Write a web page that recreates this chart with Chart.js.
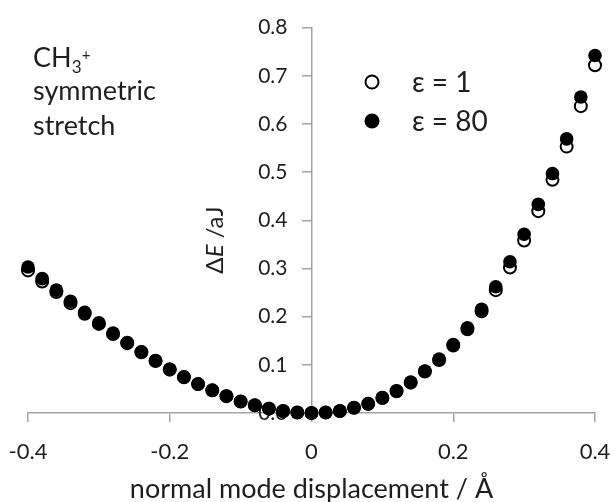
<!DOCTYPE html>
<html>
<head>
<meta charset="utf-8">
<script src="https://cdn.jsdelivr.net/npm/chart.js@4.4.0/dist/chart.umd.min.js"></script>
<style>
  html, body { margin: 0; padding: 0; background: #fff; }
</style>
</head>
<body>
<canvas id="scatter-chartcanvas" width="614" height="502"></canvas>
<script>
// displacement along the normal mode (Å)
var displacement = [-0.40, -0.38, -0.36, -0.34, -0.32, -0.30, -0.28, -0.26, -0.24, -0.22,
  -0.20, -0.18, -0.16, -0.14, -0.12, -0.10, -0.08, -0.06, -0.04, -0.02,
  0.00, 0.02, 0.04, 0.06, 0.08, 0.10, 0.12, 0.14, 0.16, 0.18,
  0.20, 0.22, 0.24, 0.26, 0.28, 0.30, 0.32, 0.34, 0.36, 0.38, 0.40];

// energy change (aJ), epsilon = 1
var eps1 = [0.296, 0.273, 0.251, 0.228, 0.206, 0.185, 0.164, 0.145, 0.126, 0.108,
  0.090, 0.074, 0.060, 0.047, 0.035, 0.024, 0.016, 0.009, 0.004, 0.001,
  0.000, 0.001, 0.004, 0.011, 0.019, 0.031, 0.045, 0.063, 0.086, 0.110,
  0.140, 0.174, 0.211, 0.255, 0.302, 0.358, 0.419, 0.484, 0.553, 0.637, 0.722];

// energy change (aJ), epsilon = 80
var eps80 = [0.303, 0.279, 0.255, 0.232, 0.209, 0.187, 0.166, 0.146, 0.127, 0.109,
  0.091, 0.075, 0.060, 0.047, 0.035, 0.024, 0.016, 0.009, 0.004, 0.001,
  0.000, 0.001, 0.004, 0.011, 0.019, 0.032, 0.046, 0.064, 0.087, 0.112,
  0.142, 0.177, 0.215, 0.262, 0.314, 0.371, 0.433, 0.497, 0.569, 0.656, 0.742];

var seriesNames = ["ε = 1", "ε = 80"];
var xTicks = [-0.4, -0.2, 0, 0.2, 0.4];
var yTicks = [0, 0.1, 0.2, 0.3, 0.4, 0.5, 0.6, 0.7, 0.8];

var axisGrey = "#a3a3a3";
var textColor = "#1e1e1e";
var fontName = "Lato";

function toPoints(xs, ys) {
  var pts = [];
  for (var i in xs) {
    pts.push({ x: xs[i], y: ys[i] });
  }
  return pts;
}

// extra text: molecule label, y title with italic E, legend
var textPlugin = {
  id: "extraText",
  afterDatasetsDraw: function(chart) {
    var c = chart.ctx;
    c.save();
    c.fillStyle = textColor;
    c.textBaseline = "alphabetic";
    c.textAlign = "left";

    // CH3+ symmetric stretch
    c.font = "27px " + fontName;
    c.fillText("CH", 33, 67);
    var w = c.measureText("CH").width;
    c.font = "17px " + fontName;
    c.fillText("3", 33 + w, 73);
    c.font = "15px " + fontName;
    c.fillText("+", 33 + w + 10, 60);
    c.font = "27px " + fontName;
    c.fillText("symmetric", 33, 100);
    c.fillText("stretch", 33, 135);

    // y axis title
    c.save();
    c.translate(215, 240);
    c.rotate(-Math.PI / 2);
    var parts = [["Δ", "24px "], ["E", "italic 24px "], [" /aJ", "24px "]];
    var total = 0;
    for (var p in parts) {
      c.font = parts[p][1] + fontName;
      total += c.measureText(parts[p][0]).width;
    }
    var x = -total / 2;
    c.textBaseline = "middle";
    for (var q in parts) {
      c.font = parts[q][1] + fontName;
      c.fillText(parts[q][0], x, 0);
      x += c.measureText(parts[q][0]).width;
    }
    c.restore();

    // legend
    c.textBaseline = "middle";
    c.font = "28px " + fontName;
    c.lineWidth = 2;
    c.strokeStyle = "#000";
    c.fillStyle = "#fff";
    c.beginPath();
    c.arc(372, 82, 6.5, 0, Math.PI * 2);
    c.fill();
    c.stroke();
    c.fillStyle = "#000";
    c.beginPath();
    c.arc(372, 121, 7.5, 0, Math.PI * 2);
    c.fill();
    c.fillStyle = textColor;
    c.fillText(seriesNames[0], 412, 83);
    c.fillText(seriesNames[1], 412, 122);
    c.restore();
  }
};

var ctx1 = document.getElementById("scatter-chartcanvas");

var chart1 = new Chart(ctx1, {
  type: "scatter",
  data: {
    datasets: [
      {
        label: seriesNames[0],
        data: toPoints(displacement, eps1),
        pointRadius: 6,
        pointBorderWidth: 2,
        pointBackgroundColor: "#fff",
        pointBorderColor: "#000",
        clip: false,
        order: 1
      },
      {
        label: seriesNames[1],
        data: toPoints(displacement, eps80),
        pointRadius: 6.8,
        pointBorderWidth: 0,
        pointBackgroundColor: "#000",
        pointBorderColor: "#000",
        clip: false,
        order: 0
      }
    ]
  },
  options: {
    responsive: false,
    animation: false,
    layout: {
      padding: { left: 28, right: 19, top: 25, bottom: 0 }
    },
    plugins: {
      legend: { display: false },
      tooltip: { enabled: false }
    },
    scales: {
      x: {
        type: "linear",
        min: -0.4,
        max: 0.4,
        afterBuildTicks: function(axis) {
          axis.ticks = xTicks.map(function(v) { return { value: v }; });
        },
        afterFit: function(scale) {
          scale.height = 89;
          // end labels fit inside the layout padding already
          scale.paddingLeft = 0;
          scale.paddingRight = 0;
        },
        border: { color: axisGrey, width: 1.5 },
        grid: {
          drawOnChartArea: false,
          drawTicks: true,
          tickLength: 9,
          color: axisGrey,
          lineWidth: 1.5
        },
        ticks: {
          padding: 17,
          color: textColor,
          font: { family: fontName, size: 22 },
          callback: function(v) { return v === 0 ? "0" : v.toFixed(1); }
        },
        title: {
          display: true,
          text: "normal mode displacement / Å",
          color: textColor,
          font: { family: fontName, size: 27, lineHeight: 1 },
          padding: { top: 0, bottom: -1 }
        }
      },
      y: {
        type: "linear",
        // x = 0 sits in the middle of the plot, so the centre axis is at zero
        position: "center",
        min: 0,
        max: 0.8,
        afterBuildTicks: function(axis) {
          axis.ticks = yTicks.map(function(v) { return { value: v }; });
        },
        border: { color: axisGrey, width: 1.5 },
        grid: {
          drawOnChartArea: false,
          drawTicks: true,
          tickLength: 9,
          color: axisGrey,
          lineWidth: 1.5
        },
        ticks: {
          padding: 15,
          color: textColor,
          font: { family: fontName, size: 21 },
          callback: function(v) { return v.toFixed(1); }
        }
      }
    }
  },
  plugins: [textPlugin]
});
</script>
</body>
</html>
